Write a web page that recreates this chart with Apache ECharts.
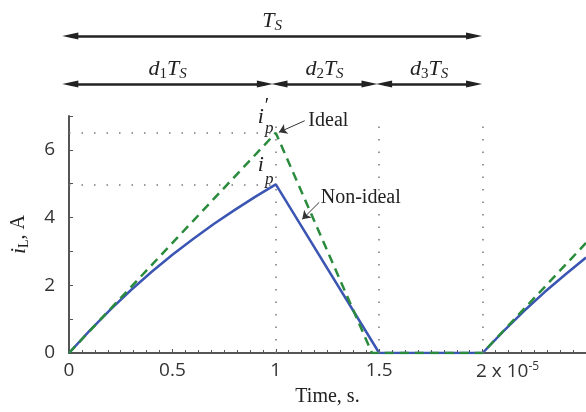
<!DOCTYPE html>
<html>
<head>
<meta charset="utf-8">
<script src="https://cdn.jsdelivr.net/npm/echarts@6/dist/echarts.min.js"></script>
<style>
  html, body { margin: 0; padding: 0; background: #fff; }
  #main { width: 586px; height: 412px; }
</style>
</head>
<body>
<div id="main"></div>
<script>
// time in units of 1e-5 s
const tNonIdeal = [0, 0.1, 0.2, 0.3, 0.4, 0.5, 0.6, 0.7, 0.8, 0.9, 1.0, 1.5, 2.0, 2.1, 2.2, 2.3, 2.4, 2.5];
const iNonIdeal = [0, 0.66, 1.28, 1.86, 2.40, 2.90, 3.37, 3.81, 4.22, 4.61, 4.98, 0, 0, 0.64, 1.24, 1.8, 2.32, 2.82];
const tIdeal = [0, 1.0, 1.465, 2.0, 2.5];
const iIdeal = [0, 6.5, 0, 0, 3.25];

const peakIdeal = 6.5;
const peakNonIdeal = 4.98;
const phaseEdges = [0, 1, 1.5, 2];   // d1Ts | d2Ts | d3Ts

const serif = 'Liberation Serif';
const sans = 'Open Sans';
const blue = '#3b55b3';
const green = '#2a8b3d';
const axisGray = '#555';

const zip = (a, b) => a.map((v, k) => [v, b[k]]);

const chart = echarts.init(document.getElementById('main'));

const italicRich = {
  it: { fontFamily: serif, fontStyle: 'italic', fontSize: 22, color: '#222' },
  pr: { fontFamily: serif, fontSize: 20, color: '#222', padding: [0, 0, 22, 1] },
  sub: { fontFamily: serif, fontStyle: 'italic', fontSize: 15, color: '#222', padding: [10, 0, 0, 0] },
  num: { fontFamily: serif, fontSize: 15, color: '#222', padding: [10, 0, 0, 0] }
};
const subP = { sub: { fontFamily: serif, fontStyle: 'italic', fontSize: 17, color: '#222' } };

const spanLine = (x0, x1, y, text) => [
  { coord: [x0 + 0.035, y], label: { formatter: text } },
  { coord: [x1 - 0.035, y] }
];

const option = {
  animation: false,
  grid: [
    { left: 63, top: 116, width: 526, height: 244 },
    { left: 63, top: 0, width: 526, height: 100 }
  ],
  xAxis: [
    {
      type: 'value', gridIndex: 0, min: 0, max: 2.5, interval: 0.5,
      name: 'Time, s.', nameLocation: 'middle', nameGap: 34,
      nameTextStyle: { fontFamily: serif, fontSize: 20, color: '#222' },
      axisLine: { lineStyle: { color: axisGray, width: 2 } },
      axisTick: { inside: true, length: 4, lineStyle: { color: axisGray } },
      minorTick: { show: true, splitNumber: 8, length: 3, lineStyle: { color: axisGray } },
      splitLine: { show: false },
      axisLabel: {
        showMaxLabel: false, margin: 8,
        fontFamily: sans, fontSize: 19, color: '#333',
        formatter: v => (v === 2 ? '{a|2 x 10}{sup|-5}' : String(v)),
        rich: {
          a: { fontFamily: sans, fontSize: 19, color: '#333', padding: [0, 0, 0, 50] },
          sup: { fontFamily: sans, fontSize: 12, color: '#333', padding: [0, 0, 10, 0] }
        }
      }
    },
    { type: 'value', gridIndex: 1, min: 0, max: 2.5, show: false }
  ],
  yAxis: [
    {
      type: 'value', gridIndex: 0, min: 0, max: 7, interval: 2,
      name: '{it|i}{sub|L}{txt|, A}', nameLocation: 'middle', nameGap: 38, nameRotate: 90,
      nameTextStyle: {
        rich: {
          it: { fontFamily: serif, fontStyle: 'italic', fontSize: 22, color: '#222' },
          sub: { fontFamily: serif, fontSize: 14, color: '#222', padding: [10, 0, 0, 0] },
          txt: { fontFamily: serif, fontSize: 20, color: '#222' }
        }
      },
      axisLine: { lineStyle: { color: axisGray, width: 2 } },
      axisTick: { inside: true, length: 4, lineStyle: { color: axisGray } },
      minorTick: { show: true, splitNumber: 2, length: 4, lineStyle: { color: axisGray } },
      splitLine: { show: false },
      axisLabel: { showMaxLabel: false, margin: 14, fontFamily: sans, fontSize: 19, color: '#333' }
    },
    { type: 'value', gridIndex: 1, min: 0, max: 100, inverse: true, show: false }
  ],
  series: [
    {
      name: 'Non-ideal', type: 'line', xAxisIndex: 0, yAxisIndex: 0,
      data: zip(tNonIdeal, iNonIdeal), symbol: 'none', z: 3,
      lineStyle: { color: blue, width: 2.5 },
      markLine: {
        silent: true, symbol: 'none', label: { show: false },
        lineStyle: { color: '#777', type: [1.5, 11], width: 1.5 },
        data: [
          [{ coord: [0, peakIdeal] }, { coord: [phaseEdges[1], peakIdeal] }],
          [{ coord: [0, peakNonIdeal] }, { coord: [phaseEdges[1], peakNonIdeal] }],
          [{ coord: [phaseEdges[1], 0] }, { coord: [phaseEdges[1], 7] }],
          [{ coord: [phaseEdges[2], 0] }, { coord: [phaseEdges[2], 7] }],
          [{ coord: [phaseEdges[3], 0] }, { coord: [phaseEdges[3], 7] }]
        ]
      }
    },
    {
      name: 'Ideal', type: 'line', xAxisIndex: 0, yAxisIndex: 0,
      data: zip(tIdeal, iIdeal), symbol: 'none', z: 4,
      lineStyle: { color: green, width: 2.5, type: [9, 6] },
      markLine: {
        silent: true, symbol: ['none', 'arrow'], symbolSize: 8,
        lineStyle: { color: '#333', type: 'solid', width: 1 },
        label: { show: false },
        data: [
          [{ coord: [1.14, 6.86] }, { coord: [1.015, 6.52] }],
          [{ coord: [1.21, 4.45] }, { coord: [1.128, 3.95] }]
        ]
      },
      markPoint: {
        silent: true, symbol: 'circle', symbolSize: 1,
        itemStyle: { color: 'rgba(0,0,0,0)' },
        label: { show: true, color: '#222', fontFamily: serif, fontSize: 20, position: 'right', distance: 0 },
        data: [
          { coord: [1.155, 6.85], label: { formatter: 'Ideal' } },
          { coord: [1.215, 4.58], label: { formatter: 'Non-ideal' } },
          { coord: [0.91, 6.95], label: { formatter: '{it|i}{pr|′}', rich: italicRich } },
          { coord: [0.945, 6.62], label: { formatter: '{sub|p}', rich: subP } },
          { coord: [0.91, 5.55], label: { formatter: '{it|i}', rich: italicRich } },
          { coord: [0.945, 5.12], label: { formatter: '{sub|p}', rich: subP } }
        ]
      }
    },
    {
      name: 'spans', type: 'line', xAxisIndex: 1, yAxisIndex: 1, data: [],
      markLine: {
        silent: true, symbol: ['triangle', 'triangle'], symbolSize: [7, 16],
        lineStyle: { color: '#222', type: 'solid', width: 2.5 },
        label: {
          show: true, position: 'insideMiddleTop', distance: 2,
          color: '#222', rich: italicRich
        },
        data: [
          spanLine(phaseEdges[0], phaseEdges[3], 36, '{it|T}{sub|S}'),
          spanLine(phaseEdges[0], phaseEdges[1], 84, '{it|d}{num|1}{it|T}{sub|S}'),
          spanLine(phaseEdges[1], phaseEdges[2], 84, '{it|d}{num|2}{it|T}{sub|S}'),
          spanLine(phaseEdges[2], phaseEdges[3], 84, '{it|d}{num|3}{it|T}{sub|S}')
        ]
      }
    }
  ]
};

chart.setOption(option);
</script>
</body>
</html>
